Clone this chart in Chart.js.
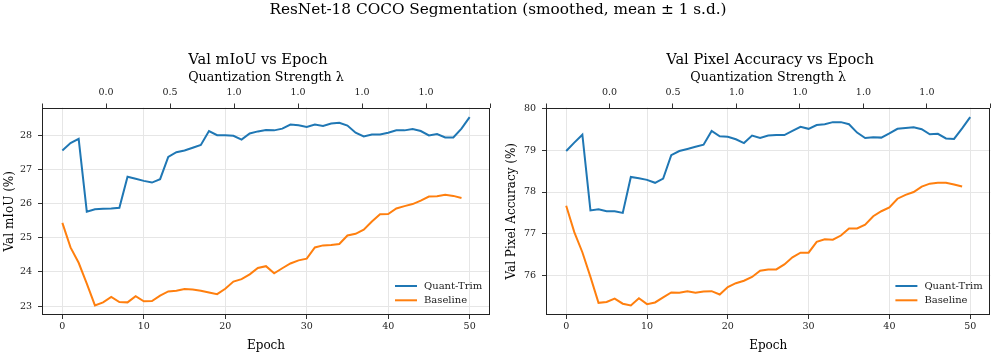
<!DOCTYPE html>
<html>
<head>
<meta charset="utf-8">
<script src="https://cdn.jsdelivr.net/npm/chart.js@4.4.1/dist/chart.umd.min.js"></script>
<style>
  html, body { margin: 0; padding: 0; background: #fff; }
  #wrap { position: relative; width: 996px; height: 354px; }
  .ttl {
    position: absolute; white-space: nowrap; transform: translateX(-50%);
    font-family: 'DejaVu Serif', serif; color: #000; line-height: 18px;
  }
  #suptitle { left: 498px; top: 0; font-size: 15.3px; }
  .sub { top: 50px; font-size: 14.6px; }
  .box { position: absolute; top: 0; width: 498px; height: 354px; }
</style>
</head>
<body>
<div id="wrap">
  <div class="box" style="left:0"><canvas id="miouChart"></canvas></div>
  <div class="box" style="left:498px"><canvas id="accChart"></canvas></div>
  <div id="suptitle" class="ttl">ResNet-18 COCO Segmentation (smoothed, mean ± 1 s.d.)</div>
  <div class="ttl sub" style="left:258px">Val mIoU vs Epoch</div>
  <div class="ttl sub" style="left:770px">Val Pixel Accuracy vs Epoch</div>
</div>
<script>
const SERIF = "'DejaVu Serif', serif";

const epochs = [0, 1, 2, 3, 4, 5, 6, 7, 8, 9, 10, 11, 12, 13, 14, 15, 16, 17, 18, 19, 20,
  21, 22, 23, 24, 25, 26, 27, 28, 29, 30, 31, 32, 33, 34, 35, 36, 37, 38, 39, 40,
  41, 42, 43, 44, 45, 46, 47, 48, 49, 50];

// top axis (quantization strength) labels, one per tick 0..7
const lambdaLabels = ['', '0.0', '0.5', '1.0', '1.0', '1.0', '1.0', ''];

const miouQuant = [27.56, 27.78, 27.90, 25.77, 25.84, 25.85, 25.86, 25.88, 26.79, 26.73,
  26.67, 26.62, 26.72, 27.37, 27.51, 27.56, 27.64, 27.72, 28.13, 28.01,
  28.01, 27.99, 27.88, 28.06, 28.12, 28.16, 28.15, 28.20, 28.32, 28.30,
  28.25, 28.32, 28.28, 28.35, 28.37, 28.29, 28.08, 27.97, 28.03, 28.03,
  28.08, 28.15, 28.15, 28.19, 28.13, 28.00, 28.04, 27.94, 27.94, 28.20, 28.54];
const miouBase = [25.44, 24.72, 24.27, 23.66, 23.02, 23.11, 23.27, 23.12, 23.11, 23.29,
  23.14, 23.15, 23.31, 23.43, 23.45, 23.50, 23.49, 23.45, 23.40, 23.35,
  23.51, 23.72, 23.79, 23.93, 24.12, 24.17, 23.96, 24.11, 24.25, 24.34,
  24.39, 24.72, 24.78, 24.79, 24.82, 25.07, 25.12, 25.24, 25.48, 25.69,
  25.70, 25.86, 25.93, 25.99, 26.09, 26.21, 26.22, 26.26, 26.23, 26.17];

const accQuant = [78.98, 79.18, 79.37, 77.56, 77.59, 77.54, 77.54, 77.50, 78.36, 78.33,
  78.29, 78.22, 78.32, 78.88, 78.98, 79.03, 79.08, 79.13, 79.46, 79.33,
  79.32, 79.26, 79.17, 79.35, 79.29, 79.35, 79.36, 79.36, 79.46, 79.56,
  79.51, 79.60, 79.62, 79.67, 79.67, 79.62, 79.42, 79.29, 79.31, 79.30,
  79.40, 79.51, 79.53, 79.55, 79.50, 79.38, 79.39, 79.28, 79.27, 79.52, 79.79];
const accBase = [77.67, 77.04, 76.56, 75.97, 75.35, 75.37, 75.45, 75.33, 75.29, 75.46,
  75.32, 75.36, 75.48, 75.60, 75.59, 75.63, 75.59, 75.62, 75.63, 75.55,
  75.73, 75.82, 75.88, 75.97, 76.12, 76.15, 76.15, 76.27, 76.44, 76.55,
  76.55, 76.81, 76.87, 76.86, 76.96, 77.13, 77.13, 77.22, 77.42, 77.54,
  77.63, 77.84, 77.93, 78.00, 78.13, 78.20, 78.22, 78.22, 78.18, 78.13];

// spines on all four sides + legend in the lower right corner
const framePlugin = {
  id: 'frame',
  afterDraw(chart) {
    const { ctx, chartArea: a } = chart;
    ctx.save();
    ctx.strokeStyle = '#222';
    ctx.lineWidth = 1;
    const l = Math.round(a.left) + 0.5, t = Math.round(a.top) + 0.5;
    const r = Math.round(a.right) - 0.5, b = Math.round(a.bottom) - 0.5;
    ctx.strokeRect(l, t, r - l, b - t);

    const x0 = a.right - 95;
    const y0 = a.bottom - 29;
    ctx.font = '10px ' + SERIF;
    ctx.textBaseline = 'middle';
    chart.data.datasets.forEach((ds, i) => {
      const y = y0 + i * 14.3;
      ctx.strokeStyle = ds.borderColor;
      ctx.lineWidth = 2;
      ctx.beginPath();
      ctx.moveTo(x0, y);
      ctx.lineTo(x0 + 22, y);
      ctx.stroke();
      ctx.fillStyle = '#222';
      ctx.fillText(ds.label, x0 + 29, y);
    });
    ctx.restore();
  }
};

const tickFont = { family: SERIF, size: 9.5 };
const labelFont = { family: SERIF, size: 12 };

function makeChart(id, yTitle, quant, base, yMin, yMax, yWidth, yTitlePad, padRight) {
  return new Chart(document.getElementById(id), {
    type: 'line',
    data: {
      labels: epochs,
      datasets: [
        { label: 'Quant-Trim', data: quant, borderColor: '#1f77b4', borderWidth: 2, pointRadius: 0, tension: 0 },
        { label: 'Baseline', data: base, borderColor: '#ff7f0e', borderWidth: 2, pointRadius: 0, tension: 0 }
      ]
    },
    options: {
      responsive: true,
      maintainAspectRatio: false,
      animation: false,
      layout: { padding: { left: 0, right: padRight, top: 67.5, bottom: 0 } },
      plugins: {
        legend: { display: false },
        tooltip: { enabled: false }
      },
      scales: {
        x: {
          type: 'linear', position: 'bottom', min: -2.5, max: 52.5,
          ticks: { stepSize: 10, includeBounds: false, font: tickFont, color: '#222', padding: 2.3, maxRotation: 0 },
          grid: { color: '#e6e6e6', tickColor: '#333', tickLength: 4 },
          border: { display: false },
          title: { display: true, text: 'Epoch', font: labelFont, color: '#000', padding: { top: 0, bottom: 0.5 } },
          afterFit: s => { s.height = 39; }
        },
        x2: {
          type: 'linear', axis: 'x', position: 'top', min: 0, max: 7,
          ticks: { stepSize: 1, includeBounds: false, font: tickFont, color: '#222', padding: 5.6,
                   callback: v => lambdaLabels[v] },
          grid: { drawOnChartArea: false, tickColor: '#333', tickLength: 4 },
          border: { display: false },
          title: { display: true, text: 'Quantization Strength λ', font: { family: SERIF, size: 12.7 },
                   color: '#000', padding: { top: 2.2, bottom: 0 } },
          afterFit: s => { s.height = 40; }
        },
        y: {
          min: yMin, max: yMax,
          ticks: { stepSize: 1, includeBounds: false, font: tickFont, color: '#222', padding: 6 },
          grid: { color: '#e6e6e6', tickColor: '#333', tickLength: 4 },
          border: { display: false },
          title: { display: true, text: yTitle, font: labelFont, color: '#000', padding: { top: yTitlePad, bottom: 0 } },
          afterFit: s => { s.width = yWidth; }
        }
      }
    },
    plugins: [framePlugin]
  });
}

makeChart('miouChart', 'Val mIoU (%)', miouQuant, miouBase, 22.74, 28.82, 42, 3, 8);
makeChart('accChart', 'Val Pixel Accuracy (%)', accQuant, accBase, 75.06, 80.02, 48, 7, 3);
</script>
</body>
</html>
